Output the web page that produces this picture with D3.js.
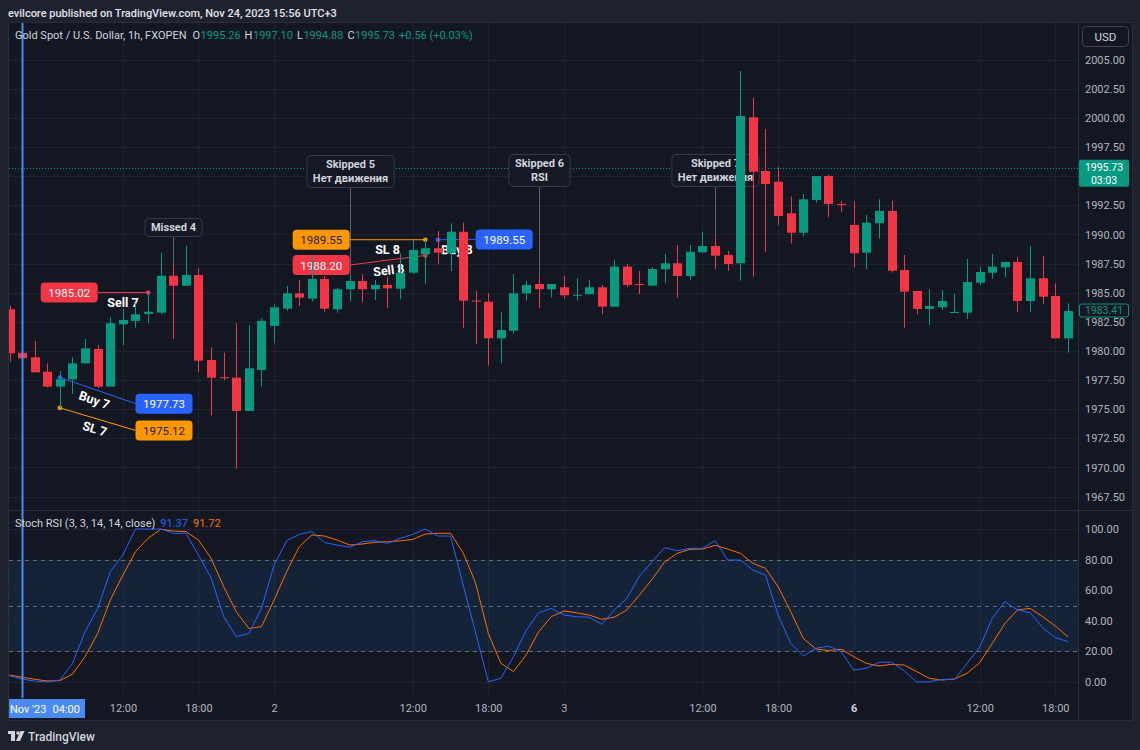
<!DOCTYPE html>
<html>
<head>
<meta charset="utf-8">
<script src="https://cdn.jsdelivr.net/npm/d3@7"></script>
<style>
  body { margin: 0; background: #1e222d; }
  text { font-family: Roboto, "Noto Sans", "DejaVu Sans", sans-serif; }
</style>
</head>
<body>
<script>
// XAU/USD 1h bars, index 0 = Nov 1 03:00 ... index 84 = Nov 6 18:00
var opens = [1983.58, 1979.85, 1979.46, 1978.22, 1976.94, 1977.57, 1978.94, 1980.17, 1976.94, 1982.29,
    1982.58, 1983.18, 1983.29, 1986.46, 1985.60, 1986.52, 1979.23, 1977.75, 1977.71, 1974.85,
    1978.37, 1982.15, 1983.63, 1984.95, 1984.49, 1986.18, 1983.58, 1985.30, 1986.01, 1985.30,
    1985.67, 1985.35, 1986.72, 1988.30, 1988.82, 1988.39, 1990.24, 1984.33, 1984.23, 1981.09,
    1981.74, 1984.95, 1985.75, 1985.30, 1985.47, 1984.78, 1984.87, 1985.47, 1983.80, 1987.24,
    1985.75, 1985.61, 1987.01, 1987.53, 1986.44, 1988.47, 1989.01, 1988.24, 1987.53, 2000.06,
    1995.45, 1994.53, 1991.82, 1990.15, 1992.96, 1995.02, 1992.62, 1990.82, 1988.44, 1990.96,
    1992.02, 1986.95, 1985.15, 1983.61, 1983.75, 1983.29, 1983.29, 1985.86, 1986.72, 1987.18,
    1987.64, 1984.29, 1986.24, 1984.72, 1981.09];
var highs = [1983.89, 1981.31, 1980.86, 1978.94, 1978.28, 1979.46, 1981.03, 1980.52, 1982.89, 1983.61,
    1984.09, 1985.09, 1988.44, 1987.38, 1989.00, 1987.10, 1980.32, 1979.85, 1982.38, 1982.23,
    1982.80, 1984.03, 1985.58, 1986.09, 1988.09, 1986.44, 1985.43, 1986.44, 1986.61, 1986.09,
    1986.33, 1988.39, 1989.53, 1989.55, 1990.30, 1990.96, 1991.01, 1985.18, 1984.95, 1983.32,
    1986.61, 1986.03, 1986.33, 1985.75, 1986.44, 1986.24, 1986.09, 1985.67, 1987.81, 1987.47,
    1986.87, 1987.18, 1988.33, 1989.10, 1989.10, 1990.24, 1989.75, 1988.61, 2004.03, 2001.74,
    1999.06, 1995.77, 1993.24, 1993.48, 1995.02, 1995.11, 1992.88, 1992.82, 1991.67, 1993.02,
    1992.88, 1988.24, 1985.15, 1985.30, 1985.24, 1984.89, 1987.90, 1987.24, 1988.33, 1987.64,
    1988.09, 1989.01, 1988.15, 1985.81, 1984.09];
var lows = [1979.08, 1978.09, 1978.17, 1976.85, 1975.08, 1976.31, 1978.94, 1976.80, 1976.94, 1980.52,
    1982.00, 1982.38, 1983.18, 1981.03, 1985.60, 1978.22, 1974.50, 1977.50, 1969.90, 1974.85,
    1976.94, 1980.66, 1983.43, 1983.86, 1984.23, 1983.37, 1983.29, 1984.23, 1984.18, 1984.38,
    1983.66, 1984.44, 1986.61, 1985.73, 1987.44, 1986.87, 1981.95, 1980.60, 1978.74, 1978.94,
    1981.46, 1984.32, 1983.66, 1984.61, 1984.52, 1984.32, 1984.87, 1983.18, 1983.80, 1985.47,
    1984.89, 1985.61, 1985.86, 1984.58, 1986.09, 1988.47, 1987.01, 1986.89, 1986.03, 1986.38,
    1988.52, 1990.82, 1989.24, 1989.81, 1992.73, 1991.48, 1991.96, 1987.18, 1987.01, 1989.67,
    1986.72, 1982.00, 1983.15, 1982.23, 1983.52, 1983.29, 1982.75, 1985.67, 1986.21, 1986.33,
    1983.37, 1983.37, 1984.01, 1981.09, 1979.85];
var closes = [1979.80, 1979.37, 1978.17, 1976.94, 1977.57, 1978.94, 1980.23, 1976.94, 1982.38, 1982.66,
    1983.15, 1983.37, 1986.46, 1985.60, 1986.52, 1979.17, 1977.71, 1977.70, 1974.85, 1978.51,
    1982.58, 1983.75, 1984.95, 1984.58, 1986.18, 1983.63, 1985.30, 1986.01, 1985.30, 1985.67,
    1985.38, 1986.72, 1988.67, 1988.82, 1988.44, 1990.24, 1984.32, 1984.25, 1981.09, 1981.80,
    1984.95, 1985.67, 1985.30, 1985.75, 1984.78, 1984.82, 1985.47, 1983.80, 1987.24, 1985.67,
    1985.70, 1987.04, 1987.53, 1986.44, 1988.52, 1989.01, 1988.18, 1987.47, 2000.17, 1995.39,
    1994.33, 1991.59, 1990.15, 1993.02, 1995.02, 1992.62, 1992.57, 1988.39, 1991.01, 1992.02,
    1986.89, 1985.09, 1983.61, 1983.86, 1984.29, 1983.35, 1985.92, 1986.78, 1987.24, 1987.64,
    1984.29, 1986.24, 1984.66, 1981.09, 1983.43];

// Stoch RSI (3, 3, 14, 14, close)
var stochK = [4.1, 1.9, 0.6, 0, 1.3, 12.2, 32.9, 48.1, 72.1, 83,
    100, 100, 100, 97.2, 97.2, 83, 68, 42.7, 29.6, 31.8,
    48.1, 76.5, 92.4, 96.5, 98.3, 91.1, 89.5, 88, 91.7, 92.4,
    90.6, 93.9, 96.5, 100, 95.4, 95.4, 63.6, 32, 0.2, 2.4,
    16.6, 33.6, 45.3, 48.1, 43.8, 42.7, 42.3, 37.7, 47.1, 54.7,
    69.3, 78.6, 87.8, 85.8, 87.4, 87.4, 92.4, 79.7, 79.7, 73.2,
    69.9, 43.8, 25.3, 17, 22, 23.5, 19.8, 7.8, 8.9, 12.9,
    12.9, 7.4, 0, 0.2, 1.7, 1.7, 12.2, 22.7, 41.6, 52.5,
    47.1, 45.3, 35.5, 29, 26.4];
var stochD = [4.6, 3.1, 1.8, 0.65, 0.9, 5.2, 16.6, 31.8, 53.6, 69.9,
    85.2, 93.9, 99.8, 98.7, 98.3, 92.8, 80.8, 62.3, 45.9, 35,
    36.2, 53.6, 72.1, 88.5, 96.1, 95.4, 92.8, 89.5, 90.2, 91.3,
    91.7, 92.2, 93.2, 96.7, 97.2, 97.2, 84.5, 64.5, 31.8, 12.2,
    6.8, 17.6, 32.9, 42.7, 46.4, 45.3, 43.8, 41, 42.3, 47.1,
    56.9, 67.1, 78.6, 84.1, 86.7, 86.9, 89.3, 86.9, 84.1, 77.6,
    74.3, 62.3, 46, 28.5, 21.6, 20.5, 21.4, 16.6, 12.2, 10.5,
    11.5, 11.1, 6.8, 2.4, 1.3, 2, 5.7, 12.6, 25.3, 38.3,
    47.1, 48.1, 42.7, 36.6, 29.6];

var priceTicks = [1967.5, 1970, 1972.5, 1975, 1977.5, 1980, 1982.5, 1985, 1987.5, 1990,
    1992.5, 1995, 1997.5, 2000, 2002.5, 2005];
var rsiTicks = [0, 20, 40, 60, 80, 100];
var rsiLevels = [20, 50, 80];
var timeTickIdx = [9, 15, 21, 32, 38, 44, 55, 61, 67, 77, 83];
var timeTickLbl = ["12:00", "18:00", "2", "12:00", "18:00", "3", "12:00", "18:00", "6", "12:00", "18:00"];

// text notes drawn by the strategy
var noteBar = [13, 27, 42, 56];
var noteLines = [["Missed 4"], ["Skipped 5", "Нет движения"], ["Skipped 6", "RSI"], ["Skipped 7", "Нет движения"]];
var noteHigh = [1987.38, 1986.44, 1986.33, 1989.75];
var noteLevel = [1989.87, 1994.08, 1994.15, 1994.2];

// trade levels
var tradeBar = [11, 4, 4, 33, 33, 34];
var tradePrice = [1985.02, 1977.73, 1975.12, 1989.55, 1988.20, 1989.55];
var tradeText = ["Sell 7", "Buy 7", "SL 7", "SL 8", "Sell 8", "Buy 8"];
var tradeKind = ["sell", "buy", "sl", "sl", "sell", "buy"];
var pillBar = [7, 10, 10, 27, 27, 37];
var pillPrice = [1985.02, 1975.48, 1973.18, 1989.55, 1987.38, 1989.58];

var lastPrice = 1995.73, lastCountdown = "03:03";
var crossBar = 1;

var svgWidth = 1140, svgHeight = 750;
var plotLeft = 8, plotRight = 1078, frameRight = 1132;
var mainTop = 22, mainBottom = 510, rsiBottom = 698, frameBottom = 720;

var upColor = "#089981", downColor = "#F23645";
var kindColor = { sell: "#F23645", buy: "#2962FF", sl: "#FF9800" };
var kindText = { sell: "#ffffff", buy: "#ffffff", sl: "#1a1a1a" };
var gridColor = "#1f2330";

var x = d3.scaleLinear().domain([0, 84]).range([9.5, 9.5 + 84 * 12.6]);
var yP = d3.scaleLinear().domain([1967.5, 2005]).range([496.6, 59.75]);
var yR = d3.scaleLinear().domain([0, 100]).range([682, 529]);

var svg = d3.select("body").append("svg")
    .attr("width", svgWidth)
    .attr("height", svgHeight);

svg.append("rect").attr("width", svgWidth).attr("height", svgHeight).attr("fill", "#1e222d");
svg.append("rect")
    .attr("x", plotLeft + 0.5).attr("y", mainTop + 0.5)
    .attr("width", frameRight - plotLeft).attr("height", frameBottom - mainTop)
    .attr("fill", "#131722").attr("stroke", "#2a2e39");

var defs = svg.append("defs");
defs.append("clipPath").attr("id", "clipMain").append("rect")
    .attr("x", plotLeft + 1).attr("y", mainTop + 1).attr("width", plotRight - plotLeft - 1).attr("height", mainBottom - mainTop - 1);
defs.append("clipPath").attr("id", "clipRsi").append("rect")
    .attr("x", plotLeft + 1).attr("y", mainBottom + 1).attr("width", plotRight - plotLeft - 1).attr("height", rsiBottom - mainBottom - 1);
defs.append("clipPath").attr("id", "clipTime").append("rect")
    .attr("x", plotLeft + 1).attr("y", rsiBottom).attr("width", plotRight - plotLeft - 1).attr("height", frameBottom - rsiBottom);

// grid
var grid = svg.append("g");
grid.selectAll(".vgrid").data(timeTickIdx).enter().append("line")
    .attr("x1", d => Math.round(x(d)) + 0.5).attr("x2", d => Math.round(x(d)) + 0.5)
    .attr("y1", mainTop + 1).attr("y2", rsiBottom)
    .attr("stroke", gridColor);
grid.selectAll(".hgrid").data(priceTicks).enter().append("line")
    .attr("x1", plotLeft + 1).attr("x2", plotRight)
    .attr("y1", d => Math.round(yP(d)) + 0.5).attr("y2", d => Math.round(yP(d)) + 0.5)
    .attr("stroke", gridColor);

// stoch rsi pane
var rsiG = svg.append("g").attr("clip-path", "url(#clipRsi)");
rsiG.append("rect")
    .attr("x", plotLeft + 1).attr("width", plotRight - plotLeft - 1)
    .attr("y", yR(80)).attr("height", yR(20) - yR(80))
    .attr("fill", "rgba(33,150,243,0.1)");
rsiG.selectAll(".rgrid").data(rsiTicks).enter().append("line")
    .attr("x1", plotLeft + 1).attr("x2", plotRight)
    .attr("y1", d => Math.round(yR(d)) + 0.5).attr("y2", d => Math.round(yR(d)) + 0.5)
    .attr("stroke", gridColor);
rsiG.selectAll(".rlevel").data(rsiLevels).enter().append("line")
    .attr("x1", plotLeft + 1).attr("x2", plotRight)
    .attr("y1", d => Math.round(yR(d)) + 0.5).attr("y2", d => Math.round(yR(d)) + 0.5)
    .attr("stroke", "#787b86").attr("stroke-dasharray", "4,4").attr("opacity", 0.8);

var rsiLine = d3.line().x((d, i) => x(i)).y(d => yR(d));
rsiG.append("path").datum(stochD).attr("d", rsiLine)
    .attr("fill", "none").attr("stroke", "#FF6D00").attr("stroke-width", 1);
rsiG.append("path").datum(stochK).attr("d", rsiLine)
    .attr("fill", "none").attr("stroke", "#2962FF").attr("stroke-width", 1);

// separators
svg.append("line").attr("x1", plotLeft).attr("x2", frameRight)
    .attr("y1", mainBottom + 0.5).attr("y2", mainBottom + 0.5).attr("stroke", "#2a2e39");
svg.append("line").attr("x1", plotRight + 0.5).attr("x2", plotRight + 0.5)
    .attr("y1", mainTop).attr("y2", frameBottom).attr("stroke", "#2a2e39");

var mainG = svg.append("g").attr("clip-path", "url(#clipMain)");

// last price dotted line
mainG.append("line")
    .attr("x1", plotLeft + 1).attr("x2", plotRight)
    .attr("y1", Math.round(yP(lastPrice)) + 0.5).attr("y2", Math.round(yP(lastPrice)) + 0.5)
    .attr("stroke", upColor).attr("stroke-dasharray", "1,2");

// notes
noteBar.forEach(function(b, k) {
    var cx = Math.round(x(b)) + 0.5;
    var lines = noteLines[k];
    var bottom = Math.round(yP(noteLevel[k]));
    var boxH = lines.length * 14 + 4;
    var top = bottom - boxH;
    mainG.append("line")
        .attr("x1", cx).attr("x2", cx)
        .attr("y1", bottom).attr("y2", yP(noteHigh[k]))
        .attr("stroke", "#5d606b");
    var box = mainG.append("rect")
        .attr("y", top + 0.5).attr("height", boxH)
        .attr("rx", 4)
        .attr("fill", "#151924").attr("stroke", "#363a45");
    var maxW = 0;
    lines.forEach(function(t, j) {
        var txt = mainG.append("text")
            .attr("x", cx).attr("y", top + 9 + 14 * j)
            .attr("text-anchor", "middle").attr("dominant-baseline", "central")
            .style("font-size", "11px").style("font-weight", "700")
            .style("fill", "#d1d4dc")
            .text(t);
        maxW = Math.max(maxW, txt.node().getComputedTextLength());
    });
    box.attr("x", cx - maxW / 2 - 6).attr("width", maxW + 12);
});

// trade lines, pills and captions
tradeBar.forEach(function(b, k) {
    var col = kindColor[tradeKind[k]];
    var x1 = x(b), y1 = yP(tradePrice[k]);
    var x2 = x(pillBar[k]), y2 = yP(pillPrice[k]);
    var onLeft = pillBar[k] < b;
    mainG.append("line")
        .attr("x1", x1).attr("y1", y1).attr("x2", x2).attr("y2", y2)
        .attr("stroke", col).attr("stroke-width", 1);
    mainG.append("circle").attr("cx", x1).attr("cy", y1).attr("r", 2.3).attr("fill", col);

    var ang = onLeft ? Math.atan2(y1 - y2, x1 - x2) : Math.atan2(y2 - y1, x2 - x1);
    var mx = (x1 + x2) / 2, my = (y1 + y2) / 2;
    var ox = -Math.sin(ang) * 10, oy = Math.cos(ang) * 10;
    mainG.append("text")
        .attr("transform", "translate(" + (mx + ox) + "," + (my + oy) + ") rotate(" + (ang * 180 / Math.PI) + ")")
        .attr("text-anchor", "middle").attr("dominant-baseline", "central")
        .style("font-size", "12.5px").style("font-weight", "700")
        .style("fill", "#ffffff")
        .text(tradeText[k]);

    var px = onLeft ? x2 - 57 : x2;
    mainG.append("rect")
        .attr("x", px).attr("y", y2 - 10).attr("width", 57).attr("height", 20)
        .attr("rx", 4).attr("fill", col);
    mainG.append("text")
        .attr("x", px + 28.5).attr("y", y2 + 0.5)
        .attr("text-anchor", "middle").attr("dominant-baseline", "central")
        .style("font-size", "11.5px")
        .style("fill", kindText[tradeKind[k]])
        .text(tradePrice[k].toFixed(2));
});

// candles
var candles = mainG.selectAll(".candle").data(opens).enter().append("g");
candles.append("line")
    .attr("x1", (d, i) => Math.round(x(i)) + 0.5).attr("x2", (d, i) => Math.round(x(i)) + 0.5)
    .attr("y1", (d, i) => yP(highs[i])).attr("y2", (d, i) => yP(lows[i]))
    .attr("stroke", (d, i) => closes[i] >= opens[i] ? upColor : downColor);
candles.append("rect")
    .attr("x", (d, i) => Math.round(x(i)) - 4)
    .attr("width", 9)
    .attr("y", (d, i) => yP(Math.max(opens[i], closes[i])))
    .attr("height", (d, i) => Math.max(1, Math.abs(yP(opens[i]) - yP(closes[i]))))
    .attr("fill", (d, i) => closes[i] >= opens[i] ? upColor : downColor);

// axes
function styleAxis(g) {
    g.select(".domain").remove();
    g.selectAll(".tick line").remove();
    g.selectAll(".tick text")
        .style("font-size", "11px")
        .style("fill", "#b2b5be")
        .style("font-family", "Roboto, 'Noto Sans', sans-serif");
}

var yLast = yP(lastPrice);
var yClose = yP(closes[closes.length - 1]);

var priceAxis = d3.axisRight(yP).tickValues(priceTicks).tickFormat(d3.format(".2f")).tickSize(0).tickPadding(7);
var pg = svg.append("g").attr("transform", "translate(" + plotRight + ",0)").call(priceAxis).call(styleAxis);
// the last price label hides the scale label under it
pg.selectAll(".tick").filter(d => Math.abs(yP(d) - (yLast + 5)) < 16).remove();

var rsiAxis = d3.axisRight(yR).tickValues(rsiTicks).tickFormat(d3.format(".2f")).tickSize(0).tickPadding(7);
svg.append("g").attr("transform", "translate(" + plotRight + ",0)").call(rsiAxis).call(styleAxis);

var timeAxis = d3.axisBottom(x).tickValues(timeTickIdx).tickFormat((d, i) => timeTickLbl[i]).tickSize(0).tickPadding(6);
var tg = svg.append("g").attr("transform", "translate(0," + rsiBottom + ")").call(timeAxis).call(styleAxis);
tg.selectAll(".tick text").filter(d => d === 67).style("font-weight", "700").style("fill", "#d1d4dc");

// crosshair (vertical line drawing)
var cx0 = Math.round(x(crossBar)) + 0.5;
svg.append("line").attr("x1", cx0).attr("x2", cx0).attr("y1", mainTop + 1).attr("y2", rsiBottom)
    .attr("stroke", "#4a8af4").attr("stroke-width", 2);
var timeLbl = svg.append("g").attr("clip-path", "url(#clipTime)");
timeLbl.append("rect").attr("x", plotLeft).attr("y", rsiBottom + 1).attr("width", 77).attr("height", 19)
    .attr("fill", "#4a8af4");
timeLbl.append("text").attr("x", 10).attr("y", rsiBottom + 11)
    .attr("dominant-baseline", "central")
    .style("font-size", "11px").style("fill", "#ffffff").text("Nov '23");
timeLbl.append("text").attr("x", 80).attr("y", rsiBottom + 11)
    .attr("text-anchor", "end").attr("dominant-baseline", "central")
    .style("font-size", "11px").style("fill", "#ffffff").text("04:00");

// price scale labels
svg.append("rect").attr("x", plotRight + 1).attr("y", yLast - 8).attr("width", 50).attr("height", 27)
    .attr("rx", 2).attr("fill", upColor);
svg.append("text").attr("x", 1104).attr("y", yLast - 0.5).attr("text-anchor", "middle").attr("dominant-baseline", "central")
    .style("font-size", "10.5px").style("fill", "#ffffff").text(lastPrice.toFixed(2));
svg.append("text").attr("x", 1104).attr("y", yLast + 12.5).attr("text-anchor", "middle").attr("dominant-baseline", "central")
    .style("font-size", "10.5px").style("fill", "#ffffff").text(lastCountdown);

svg.append("rect").attr("x", plotRight + 1.5).attr("y", yClose - 7).attr("width", 49).attr("height", 13)
    .attr("rx", 2).attr("fill", "#131722").attr("stroke", upColor);
svg.append("text").attr("x", 1104).attr("y", yClose - 1).attr("text-anchor", "middle").attr("dominant-baseline", "central")
    .style("font-size", "10.5px").style("fill", upColor).text("1983.41");

// USD button
svg.append("rect").attr("x", 1082.5).attr("y", 26.5).attr("width", 46).attr("height", 20).attr("rx", 4)
    .attr("fill", "#131722").attr("stroke", "#434651");
svg.append("text").attr("x", 1105.5).attr("y", 37).attr("text-anchor", "middle").attr("dominant-baseline", "central")
    .style("font-size", "11.5px").style("fill", "#d1d4dc").text("USD");

// header texts
svg.append("text").attr("x", 8).attr("y", 13).attr("dominant-baseline", "central")
    .style("font-size", "11px").style("font-weight", "500").style("fill", "#e0e3eb")
    .text("evilcore published on TradingView.com, Nov 24, 2023 15:56 UTC+3");

// place legend pieces left to right, never overlapping
function flow(items, y) {
    var cursor = 0;
    items.forEach(function(d) {
        var xx = Math.max(d[0], cursor);
        var t = svg.append("text").attr("x", xx).attr("y", y).attr("dominant-baseline", "central")
            .style("font-size", "11px").style("fill", d[2]).text(d[1]);
        cursor = xx + t.node().getComputedTextLength() + d[3];
    });
}

flow([
    [15, "Gold Spot / U.S. Dollar, 1h, FXOPEN", "#d1d4dc", 6],
    [186, "O", "#d1d4dc", 0.5], [193, "1995.26", upColor, 4],
    [237, "H", "#d1d4dc", 0.5], [245, "1997.10", upColor, 4],
    [286, "L", "#d1d4dc", 0.5], [292, "1994.88", upColor, 4],
    [335, "C", "#d1d4dc", 0.5], [342, "1995.73", upColor, 4],
    [385, "+0.56 (+0.03%)", upColor, 0]
], 35.5);

flow([
    [15, "Stoch RSI (3, 3, 14, 14, close)", "#d1d4dc", 5],
    [157, "91.37", "#2962FF", 5],
    [188, "91.72", "#FF6D00", 0]
], 523.5);

// footer logo
var logo = svg.append("g").attr("fill", "#d1d4dc");
logo.append("rect").attr("x", 8).attr("y", 731).attr("width", 7).attr("height", 3);
logo.append("rect").attr("x", 11).attr("y", 731).attr("width", 4).attr("height", 10);
logo.append("circle").attr("cx", 18).attr("cy", 733).attr("r", 1.8);
logo.append("path").attr("d", "M20.5,731 L24.5,731 L20,741 L16,741 Z");
svg.append("text").attr("x", 28).attr("y", 736.5).attr("dominant-baseline", "central")
    .style("font-size", "12px").style("font-weight", "500").style("fill", "#d1d4dc")
    .text("TradingView");
</script>
</body>
</html>
